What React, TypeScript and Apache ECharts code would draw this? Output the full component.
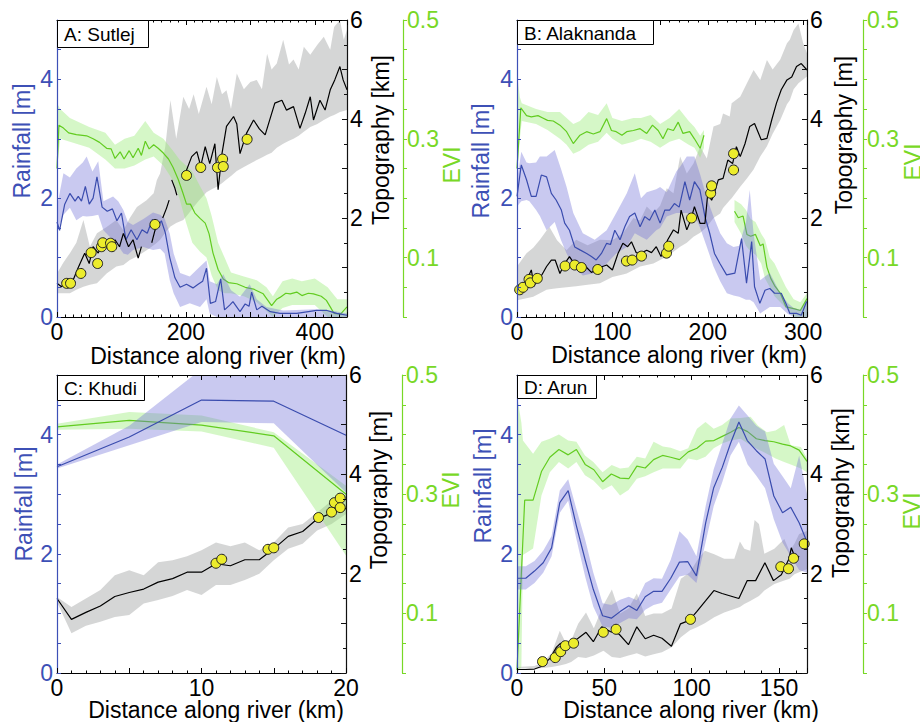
import React, { useEffect, useRef } from 'react';
import * as echarts from 'echarts';

const FONT = '"Liberation Sans", Arial, Helvetica, sans-serif';

// ---------- tick labels ----------
const sutlejDistanceTicks = [0, 200, 400];
const alaknandaDistanceTicks = [0, 100, 200, 300];
const khudiDistanceTicks = [0, 10, 20];
const arunDistanceTicks = [0, 50, 100, 150];
const rainfallTicks = [0, 2, 4];
const topographyTicks = [2, 4, 6];
const eviTicks = [0.1, 0.3, 0.5];

// ---------- A: Sutlej ----------
const sutlejRain = [[0,1.6],[4,1.46],[12,1.9],[20,2.08],[28,1.95],[33,2.03],[38,1.95],[44,2.2],[50,1.9],[56,2.0],[62,2.36],[70,1.85],[78,1.78],[86,1.82],[93,1.62],[100,1.75],[107,1.3],[115,1.47],[124,1.3],[132,1.47],[140,1.41],[148,1.64],[156,1.52],[162,1.62],[168,1.42],[175,1.0],[183,0.66],[191,0.5],[201,0.55],[211,0.49],[219,0.55],[226,0.6],[232,0.82],[238,0.23],[246,0.26],[254,0.64],[260,0.12],[268,0.2],[273,0.26],[284,0.09],[292,0.22],[298,0.18],[302,0.42],[310,0.12],[318,0.18],[331,0.09],[346,0.06],[372,0.06],[403,0.11],[419,0.11],[434,0.06],[450,0.03]];
const sutlejRainBand = [[0,1.42,1.86],[10,1.72,2.42],[20,1.84,2.35],[30,1.63,2.5],[40,1.7,2.6],[46,1.69,2.7],[55,1.7,2.45],[64,1.72,2.62],[72,1.46,1.95],[87,1.29,2.03],[95,1.2,1.95],[103,1.07,1.8],[110,1.05,1.6],[118,1.13,1.55],[134,1.18,1.65],[149,1.13,1.76],[160,1.15,1.72],[167,1.07,1.66],[175,0.62,1.4],[181,0.4,1.07],[191,0.17,0.74],[206,0.23,0.68],[222,0.17,0.85],[232,0.3,0.95],[237,0.06,0.6],[248,0,0.55],[258,0,0.72],[270,0,0.45],[284,0,0.34],[299,0,0.55],[310,0,0.3],[325,0,0.17],[351,0,0.11],[400,0,0.13],[430,0,0.1],[450,0,0.06]];
const sutlejTopo = [[0,0.68],[7,0.61],[15,0.75],[23,0.68],[33,1.0],[43,1.29],[50,1.08],[56,1.42],[64,1.29],[72,1.56],[82,1.42],[90,1.56],[97,1.42],[103,1.69],[111,1.42],[118,1.56],[126,1.19],[131,1.42],[136,null],[147,1.5],[152,1.75],[155,1.82],[159,null],[164,2.0],[170,2.2],[174,2.36],[176,null],[178,2.77],[183,2.6],[186,2.46],[192,null],[199,2.9],[209,3.24],[217,3.34],[223,3.05],[230,3.44],[237,3.1],[245,3.5],[250,2.57],[256,3.3],[263,3.85],[274,4.05],[279,3.9],[284,3.3],[294,3.71],[305,3.98],[314,3.8],[323,3.68],[338,4.32],[349,4.38],[356,4.18],[367,4.25],[377,3.81],[385,4.11],[393,4.45],[398,3.98],[408,4.38],[416,4.18],[424,4.59],[431,4.79],[439,5.06],[444,4.79],[450,4.59]];
const sutlejTopoBand = [[0,0.48,0.88],[10,0.48,1.1],[20,0.48,1.29],[30,0.55,1.5],[41,0.61,1.96],[51,0.65,1.42],[62,0.68,1.69],[77,0.88,1.82],[92,1.02,1.96],[103,1.05,1.75],[113,1.15,2.0],[124,1.22,2.22],[139,1.35,2.36],[150,1.45,2.5],[155,1.5,2.77],[160,1.56,2.9],[168,1.7,3.44],[176,1.83,4.38],[185,1.9,3.6],[196,1.96,4.45],[205,2.1,4.2],[212,2.22,4.5],[220,2.35,4.1],[232,2.52,4.65],[240,2.58,4.3],[248,2.63,4.85],[256,2.7,4.5],[263,2.78,4.58],[270,2.85,4.2],[279,2.95,4.92],[290,3.03,4.6],[300,3.1,4.75],[310,3.17,4.79],[318,3.22,4.6],[326,3.28,5.32],[333,3.32,5.0],[341,3.42,5.12],[351,3.5,5.6],[360,3.56,5.1],[367,3.6,5.2],[375,3.66,5.0],[383,3.74,5.46],[393,3.84,5.3],[404,3.9,5.5],[414,3.98,5.66],[424,4.05,5.4],[430,4.08,5.86],[439,4.14,6.0],[445,4.16,5.6],[450,4.18,5.8]];
const sutlejEvi = [[0,0.25],[3,0.323],[10,0.318],[18,0.31],[30,0.307],[46,0.305],[56,0.3],[66,0.294],[77,0.284],[84,0.283],[90,0.267],[98,0.278],[104,0.266],[112,0.28],[118,0.268],[126,0.284],[131,0.272],[137,0.296],[143,0.283],[150,0.29],[157,0.284],[165,0.276],[173,0.266],[180,0.252],[188,0.232],[195,0.21],[201,0.19],[207,0.19],[214,0.175],[222,0.166],[230,0.158],[236,0.14],[242,0.108],[250,0.08],[258,0.064],[266,0.058],[279,0.056],[292,0.05],[305,0.047],[320,0.039],[333,0.019],[341,0.03],[346,0.033],[355,0.04],[362,0.039],[372,0.042],[380,0.036],[390,0.04],[398,0.039],[410,0.035],[418,0.028],[424,0.017],[430,0.006],[440,0.005],[450,0.017]];
const sutlejEviBand = [[0,0.25,0.36],[5,0.3,0.35],[20,0.295,0.335],[50,0.285,0.32],[75,0.265,0.31],[90,0.25,0.29],[105,0.25,0.3],[120,0.255,0.305],[137,0.265,0.33],[150,0.27,0.31],[165,0.255,0.3],[180,0.23,0.28],[190,0.2,0.265],[200,0.16,0.255],[210,0.125,0.245],[222,0.11,0.22],[232,0.1,0.2],[240,0.07,0.17],[250,0.045,0.125],[260,0.04,0.1],[270,0.04,0.075],[290,0.035,0.068],[310,0.025,0.062],[325,0.01,0.05],[335,0,0.035],[350,0.015,0.06],[365,0.02,0.065],[380,0.02,0.06],[400,0.02,0.065],[420,0,0.05],[435,0,0.03],[450,0,0.03]];
const sutlejSamples = [[15,0.68],[21,0.68],[37,0.88],[53,1.3],[63,1.08],[69,1.42],[71,1.5],[83,1.49],[85,1.42],[152,1.87],[201,2.86],[223,3.02],[249,3.02],[257,3.19],[258,3.04],[295,3.59]];

// ---------- B: Alaknanda ----------
const alaknandaRain = [[0,2.03],[4.5,2.56],[10,2.31],[15,2.03],[20,2.03],[25.5,2.39],[31,2.36],[36,2.08],[41,1.97],[46.5,1.8],[50,1.58],[55,1.46],[60.5,1.18],[66,1.13],[73,1.07],[78,1.02],[83,0.96],[88.5,1.07],[94,1.24],[98,1.22],[102.5,1.46],[108,1.3],[113,1.52],[118,1.69],[123.5,1.75],[129,1.52],[134,1.69],[139,1.63],[144.5,1.8],[150,1.58],[155,1.8],[160,1.8],[165,1.91],[170,1.85],[176,2.28],[181,1.97],[186,2.28],[191.7,2.14],[197,1.69],[202,1.41],[207,1.07],[212.7,0.9],[219.7,0.71],[228.4,0.74],[235.4,1.32],[240.6,0.57],[246,1.27],[249,0.51],[254.6,0.23],[260,0.45],[265,0.48],[270,0.4],[277,0.4],[282.6,0.2],[286,0.06],[293,0.06],[298,0.03],[303.6,0.26]];
const alaknandaRainBand = [[0,1.86,2.3],[4.5,1.95,2.78],[10,1.97,2.6],[13,1.95,2.59],[20,1.8,2.6],[24,1.7,2.7],[31,1.46,2.7],[39.5,1.6,2.81],[46,1.3,2.5],[52,1.07,2.19],[59,0.85,1.75],[69,0.7,1.41],[81.5,0.74,1.3],[94,0.9,1.46],[104,1.07,1.75],[115,1.18,2.08],[123.5,1.41,2.42],[130,1.35,2.0],[136,1.3,2.1],[146,1.46,2.15],[150,1.5,2.19],[157,1.69,2.1],[167,1.75,2.45],[171,1.75,2.53],[178,1.75,2.7],[186,1.72,2.7],[192,1.5,2.4],[199,1.18,2.0],[206,0.85,1.69],[213,0.6,1.41],[220,0.4,1.24],[227,0.36,1.18],[233,0.34,1.2],[240,0.29,1.6],[244,0.29,2.14],[248,0.25,1.4],[255,0.06,0.62],[265,0.17,0.74],[276,0.17,0.4],[284,0.05,0.23],[290,0,0.15],[297,0,0.12],[304,0,0.29]];
const alaknandaTopo = [[0,0.58],[4,0.65],[8,0.62],[11,0.78],[15,0.95],[18,0.62],[21,0.78],[26,0.85],[31,1.02],[36,1.15],[40,1.15],[45,0.88],[50,1.08],[55,1.22],[60,1.08],[66,1.02],[72,1.02],[78,0.9],[87,1.0],[94,1.05],[100,0.95],[106,1.29],[111,1.49],[116,1.42],[120,1.52],[125,1.3],[130,1.29],[136,1.35],[141,1.3],[146,1.42],[151,1.22],[158,1.56],[164,1.76],[169,1.69],[172,2.16],[178,1.76],[182,1.95],[186,2.23],[192,1.89],[197,1.89],[200,2.5],[204,2.36],[206,2.45],[211,2.77],[216,2.8],[221,3.17],[226,3.1],[230,3.44],[234,3.24],[239,3.5],[244,3.85],[249,3.91],[256,3.58],[262,3.61],[267,3.98],[272,4.32],[277,4.59],[283,4.79],[288,4.85],[293,5.06],[298,5.12],[304,4.99]];
const alaknandaTopoBand = [[0,0.34,1.02],[10,0.38,1.29],[17,0.41,1.4],[24,0.48,1.56],[31,0.55,1.75],[34,0.56,1.82],[42,0.58,1.55],[52,0.6,1.35],[62,0.62,1.56],[74,0.65,1.45],[87,0.68,1.56],[100,0.81,1.55],[111,0.86,1.69],[115,0.88,1.8],[122,0.95,2.0],[129,1.02,1.95],[136,1.05,2.23],[143,1.08,2.1],[150,1.15,2.25],[157,1.22,2.6],[164,1.32,2.5],[171,1.42,3.24],[178,1.5,2.9],[185,1.62,3.1],[192,1.7,3.44],[199,1.82,3.2],[206,2.0,3.85],[213,2.09,3.9],[216,2.2,4.11],[223,2.36,4.05],[225,2.4,4.32],[234,2.63,4.45],[241,2.8,4.72],[248,2.98,4.99],[255,3.24,4.79],[262,3.45,5.19],[268,3.7,5.0],[276,3.98,5.2],[283,4.3,5.53],[286,4.38,5.6],[290,4.6,5.8],[295,4.72,5.93],[300,4.8,5.53],[304,4.86,5.33]];
const alaknandaEvi = [[0,0.25],[4,0.352],[10,0.339],[15,0.337],[22,0.339],[27,0.335],[32,0.331],[38,0.33],[45,0.323],[52,0.312],[59,0.292],[66,0.306],[73,0.312],[80,0.308],[87,0.312],[94,0.334],[99,0.314],[104,0.312],[110,0.306],[115,0.312],[122,0.314],[129,0.317],[136,0.309],[142,0.323],[148,0.314],[153,0.3],[158,0.317],[164,0.314],[169,0.328],[174,0.309],[181,0.312],[186,0.3],[192,0.284],[196,0.306],[200,null],[228,0.178],[232,0.167],[237,0.17],[241,0.139],[245,0.136],[250,0.139],[255,0.12],[258,0.123],[262,0.084],[266,0.065],[270,0.053],[276,0.04],[282,0.017],[290,0.014],[297,0.011],[304,0.031]];
const alaknandaEviBandUpper = [[0,0.24,0.41],[3,0.3,0.37],[5,0.33,0.36],[20,0.325,0.35],[32,0.315,0.345],[45,0.3,0.345],[52,0.29,0.335],[59,0.275,0.325],[66,0.28,0.33],[75,0.29,0.345],[85,0.295,0.34],[94,0.31,0.36],[100,0.3,0.335],[110,0.29,0.33],[122,0.295,0.335],[130,0.3,0.335],[140,0.295,0.34],[150,0.285,0.325],[160,0.295,0.335],[170,0.3,0.35],[180,0.29,0.33],[186,0.285,0.32],[192,0.268,0.305],[196,0.285,0.315]];
const alaknandaEviBandLower = [[228,0.16,0.197],[235,0.14,0.19],[240,0.12,0.18],[245,0.11,0.165],[250,0.105,0.16],[256,0.09,0.14],[260,0.065,0.13],[265,0.05,0.1],[270,0.035,0.09],[276,0.025,0.07],[282,0.015,0.05],[290,0,0.03],[297,0,0.025],[304,0,0.04]];
const alaknandaSamples = [[2.8,0.55],[6.3,0.6],[12.6,0.76],[14,0.69],[21.3,0.78],[50.4,1.03],[60.5,1.05],[67.5,1.0],[84.6,0.96],[114.7,1.13],[120.7,1.15],[130.5,1.23],[156.7,1.29],[159,1.43],[183,2.0],[203,2.5],[204,2.65],[227,3.3],[227,2.97]];

// ---------- C: Khudi ----------
const khudiRain = [[0,3.46],[5,3.96],[10,4.58],[15,4.56],[20,3.99]];
const khudiRainBand = [[0,3.43,3.5],[5,3.82,4.15],[10,4.21,5.1],[15,4.19,5.1],[20,3.03,5.1]];
const khudiTopo = [[0,1.5],[1,1.08],[2,1.22],[3,1.35],[4,1.54],[5,1.62],[6,1.69],[7,1.83],[8,1.9],[9,2.03],[10,2.03],[11,2.2],[12,2.16],[13,2.28],[14,2.28],[15,2.5],[16,2.75],[17,2.85],[18,3.1],[19,3.22],[19.5,3.45],[20,3.3]];
const khudiTopoBand = [[0,1.43,1.53],[1,0.8,1.33],[2,0.95,1.5],[3,1.03,1.67],[4,1.13,1.97],[5,1.17,2.07],[6,1.4,1.97],[7,1.47,2.23],[8,1.55,2.27],[9,1.67,2.35],[10,1.57,2.47],[11,1.77,2.63],[12,1.77,2.55],[13,1.87,2.63],[14,2.0,2.47],[15,2.27,2.63],[16,2.5,2.93],[17,2.6,3.0],[18,2.87,3.23],[19,3.0,3.47],[20,3.2,3.6]];
const khudiEvi = [[0,0.413],[5,0.424],[10,0.416],[15,0.398],[20,0.3]];
const khudiEviBand = [[0,0.408,0.418],[5,0.41,0.438],[10,0.405,0.432],[15,0.378,0.404],[20,0.197,0.314]];
const khudiSamples = [[11,2.21],[11.4,2.29],[14.6,2.49],[15,2.52],[18.1,3.13],[19,3.24],[19.2,3.43],[19.6,3.52],[19.6,3.33]];

// ---------- D: Arun ----------
const arunRain = [[0,1.59],[5,1.59],[10,1.71],[15,1.85],[19.8,2.1],[24.5,2.86],[29.3,3.06],[34,2.47],[39,1.9],[43.7,1.4],[49,0.96],[54,0.92],[59,1.03],[64,1.13],[68.6,1.05],[73.4,1.28],[78.2,1.37],[83,1.37],[88,1.59],[93,1.86],[97.7,1.87],[102.7,1.63],[108,2.52],[112.6,3.11],[117.5,3.45],[122.2,3.85],[127,4.21],[131.8,3.9],[137,3.73],[142,3.59],[147,2.97],[152,2.69],[156.7,2.78],[161.5,2.52],[166,2.2]];
const arunRainBand = [[0,1.4,1.79],[5,1.4,1.79],[10,1.51,1.88],[15,1.68,2.05],[19.8,1.96,2.3],[24.5,2.69,3.06],[29.3,2.89,3.25],[34,2.25,2.75],[39,1.62,2.24],[43.7,1.11,1.68],[49,0.78,1.17],[54,0.76,1.14],[59,0.84,1.23],[64,0.92,1.28],[68.6,0.9,1.22],[73.4,1.06,1.51],[78.2,1.14,1.59],[83,1.18,1.58],[88,1.4,1.9],[93,1.62,2.38],[97.7,1.65,2.24],[102.7,1.51,1.96],[108,2.2,2.8],[112.6,2.8,3.42],[117.5,3.2,3.85],[122.2,3.65,4.27],[127,3.88,4.49],[132,3.5,4.32],[137,3.31,4.15],[142,3.1,4.05],[147,2.58,3.51],[152,2.19,3.3],[156.7,1.96,3.1],[161.5,1.73,3.65],[166,1.68,3.0]];
const arunTopo = [[0,0.07],[5,0.07],[10,0.08],[14,0.13],[19,0.3],[22.6,0.52],[25,0.6],[27.5,0.45],[31.2,0.6],[35,0.7],[39.5,0.82],[43.7,0.63],[48.5,0.93],[53.6,0.83],[58.5,0.78],[63.8,0.57],[68.6,0.93],[73.4,0.69],[78.2,0.76],[83,0.7],[88.4,0.54],[93.6,0.99],[98.6,1.06],[103,1.24],[107.9,1.45],[112.7,1.66],[117.4,1.6],[122.2,1.55],[127,1.5],[131.8,1.86],[136.6,1.86],[141.9,2.22],[146.8,1.86],[151.3,1.98],[155.7,2.3],[157,2.52],[159.5,2.3],[161.5,2.35]];
const arunTopoBand = [[0,0.09,0.12],[10,0.09,0.14],[15,0.1,0.22],[19.8,0.12,0.4],[24.5,0.15,0.85],[28,0.18,0.6],[31,0.22,0.65],[35,0.32,0.99],[39.5,0.3,1.22],[44,0.35,0.9],[49.5,0.45,1.37],[54.3,0.32,1.68],[59,0.3,1.2],[63.8,0.35,1.3],[68.6,0.4,1.6],[73.4,0.33,1.15],[78.2,0.38,1.2],[83,0.42,1.2],[88.5,0.52,1.3],[93.8,0.72,1.9],[99,0.86,2.03],[103,0.92,2.26],[107.5,1.0,2.46],[112.9,1.12,2.39],[118.6,1.22,2.3],[124.4,1.29,2.3],[127.6,1.33,2.65],[130.1,1.39,2.5],[133.5,1.45,2.46],[136,1.5,3.08],[138.5,1.55,3.0],[141.6,1.66,2.4],[147.3,1.79,2.5],[153,1.86,2.7],[156,1.9,2.45],[158.8,1.99,2.6],[161.5,2.03,2.8],[166,2.09,2.86]];
const arunEvi = [[0,0.005],[4.4,0.29],[9.2,0.29],[14,0.338],[18.8,0.362],[24,0.375],[29.3,0.366],[34,0.375],[39,0.35],[44,0.341],[49,0.321],[54,0.334],[59,0.327],[64,0.326],[68.6,0.347],[73.4,0.344],[78.2,0.358],[83.3,0.365],[88,0.362],[93,0.358],[98,0.371],[103,0.377],[108,0.389],[112.7,0.39],[117.5,0.397],[122.3,0.404],[127,0.412],[132,0.405],[137,0.393],[142,0.39],[147,0.388],[152,0.384],[156.7,0.381],[161.5,0.374],[166,0.355]];
const arunEviBand = [[0,0,0.466],[2.5,0.01,0.42],[3.4,0.198,0.39],[9.2,0.209,0.368],[14,0.298,0.388],[18.8,0.337,0.393],[24,0.354,0.4],[29.3,0.343,0.39],[34,0.354,0.388],[38.9,0.332,0.365],[43.7,0.323,0.354],[49,0.307,0.337],[54.2,0.315,0.349],[59,0.298,0.343],[63.8,0.307,0.345],[68.6,0.326,0.363],[73.4,0.33,0.36],[78.2,0.337,0.388],[83.5,0.343,0.38],[88,0.343,0.378],[93.5,0.343,0.372],[98,0.36,0.377],[103,0.357,0.41],[107.9,0.363,0.421],[112.6,0.377,0.41],[117.4,0.385,0.416],[122.2,0.39,0.427],[128,0.393,0.428],[133.7,0.382,0.43],[138,0.375,0.415],[143,0.368,0.404],[148,0.36,0.407],[152.9,0.354,0.416],[156.7,0.35,0.382],[162.5,0.343,0.379],[166,0.337,0.36]];
const arunSamples = [[14.6,0.23],[21.9,0.31],[25,0.43],[27.7,0.55],[32.4,0.6],[49.4,0.82],[56.7,0.88],[99.3,1.08],[151,2.14],[155.4,2.1],[158.3,2.31],[164.4,2.6]];

// ---------- styling ----------
const BLUE_AXIS = '#3d50b6';
const BLUE_LINE = '#3a4cae';
const BLUE_BAND = 'rgba(112,112,215,0.38)';
const GREY_BAND = 'rgba(150,152,152,0.40)';
const GREEN_AXIS = '#78d826';
const GREEN_LINE = '#62cc20';
const GREEN_BAND = 'rgba(150,235,115,0.40)';

const panels = [
  { label: 'A: Sutlej', box: [57, 20, 91, 27], grid: [57, 20, 290, 297], xMax: 450, xStep: 100, xMinor: 8, xTicks: sutlejDistanceTicks,
    rain: sutlejRain, rainBand: sutlejRainBand, topo: sutlejTopo, topoBand: sutlejTopoBand, evi: sutlejEvi, eviBands: [sutlejEviBand], samples: sutlejSamples,
    topoUnit: 'Topography [km]', rainPos: [22, 141], topoPos: [381, 140], eviPos: [452, 165], xPos: [218, 356] },
  { label: 'B: Alaknanda', box: [517, 20, 136, 24], grid: [517, 20, 290, 297], xMax: 304, xStep: 50, xMinor: 5, xTicks: alaknandaDistanceTicks,
    rain: alaknandaRain, rainBand: alaknandaRainBand, topo: alaknandaTopo, topoBand: alaknandaTopoBand, evi: alaknandaEvi, eviBands: [alaknandaEviBandUpper, alaknandaEviBandLower], samples: alaknandaSamples,
    topoUnit: 'Topography [m]', rainPos: [481, 161], topoPos: [844, 135], eviPos: [913, 162], xPos: [679, 355] },
  { label: 'C: Khudi', box: [57, 375, 87, 25], grid: [57, 375, 289, 298], xMax: 20, xStep: 5, xMinor: 5, xTicks: khudiDistanceTicks,
    rain: khudiRain, rainBand: khudiRainBand, topo: khudiTopo, topoBand: khudiTopoBand, evi: khudiEvi, eviBands: [khudiEviBand], samples: khudiSamples,
    topoUnit: 'Topography [m]', rainPos: [24, 504], topoPos: [379, 490], eviPos: [451, 490], xPos: [216, 710] },
  { label: 'D: Arun', box: [517, 375, 79, 23], grid: [517, 375, 290, 298], xMax: 166, xStep: 50, xMinor: 5, xTicks: arunDistanceTicks,
    rain: arunRain, rainBand: arunRainBand, topo: arunTopo, topoBand: arunTopoBand, evi: arunEvi, eviBands: [arunEviBand], samples: arunSamples,
    topoUnit: 'Topography [km]', rainPos: [483, 486], topoPos: [841, 493], eviPos: [912, 511], xPos: [691, 710] },
];

const near = (v: number, list: number[]) => list.some((t) => Math.abs(v - t) < 1e-6);

function bandSeries(xi: number, yi: number, rows: number[][], fill: string, z: number) {
  return {
    type: 'custom', xAxisIndex: xi, yAxisIndex: yi, coordinateSystem: 'cartesian2d',
    clip: true, silent: true, z, data: rows, encode: { x: 0, y: [1, 2] },
    renderItem: (params: any, api: any) => {
      if (params.dataIndex !== 0) return null;
      const pts: number[][] = [];
      for (const r of rows) pts.push(api.coord([r[0], r[2]]));
      for (let k = rows.length - 1; k >= 0; k--) pts.push(api.coord([rows[k][0], rows[k][1]]));
      return { type: 'polygon', shape: { points: pts }, style: { fill } };
    },
  };
}

function buildOption() {
  const grid: any[] = [];
  const xAxis: any[] = [];
  const yAxis: any[] = [];
  const series: any[] = [];
  const graphic: any[] = [];
  const tickFont = { fontSize: 23, lineHeight: 21, fontFamily: FONT };

  panels.forEach((p, i) => {
    grid.push({ left: p.grid[0], top: p.grid[1], width: p.grid[2], height: p.grid[3], containLabel: false });
    const xCommon = {
      type: 'value', gridIndex: i, min: 0, max: p.xMax, interval: p.xStep, z: 10,
      axisLine: { show: true, onZero: false, lineStyle: { color: '#000', width: 1 } },
      axisTick: { show: true, inside: true, length: 5, lineStyle: { color: '#000' } },
      minorTick: { show: true, splitNumber: p.xMinor, length: 2.5, lineStyle: { color: '#000' } },
      splitLine: { show: false }, minorSplitLine: { show: false },
    };
    xAxis.push({ ...xCommon, position: 'bottom',
      axisLabel: { ...tickFont, color: '#000', margin: 4, formatter: (v: number) => (near(v, p.xTicks) ? String(v) : '') } });
    xAxis.push({ ...xCommon, position: 'top', axisLabel: { show: false } });

    yAxis.push({ type: 'value', gridIndex: i, position: 'left', min: 0, max: 5, interval: 0.5, z: 10,
      axisLine: { show: true, onZero: false, lineStyle: { color: BLUE_AXIS, width: 1.2 } },
      axisTick: { show: true, inside: true, length: 4, lineStyle: { color: BLUE_AXIS } },
      splitLine: { show: false },
      axisLabel: { ...tickFont, color: BLUE_AXIS, margin: 4, formatter: (v: number) => (near(v, rainfallTicks) ? String(v) : '') } });
    yAxis.push({ type: 'value', gridIndex: i, position: 'right', min: 0, max: 6, interval: 1, z: 10,
      axisLine: { show: true, onZero: false, lineStyle: { color: '#111', width: 1.2 } },
      axisTick: { show: true, inside: true, length: 5, lineStyle: { color: '#111' } },
      minorTick: { show: true, splitNumber: 2, length: 3, lineStyle: { color: '#111' } },
      splitLine: { show: false },
      axisLabel: { ...tickFont, color: '#000', margin: 3, formatter: (v: number) => (near(v, topographyTicks) ? String(v) : '') } });
    yAxis.push({ type: 'value', gridIndex: i, position: 'right', offset: 56, min: 0, max: 0.5, interval: 0.05, z: 10,
      axisLine: { show: true, onZero: false, lineStyle: { color: GREEN_AXIS, width: 1.2 } },
      axisTick: { show: true, inside: false, length: 4, lineStyle: { color: GREEN_AXIS } },
      splitLine: { show: false },
      axisLabel: { ...tickFont, color: GREEN_AXIS, margin: 4, formatter: (v: number) => (near(v, eviTicks) ? v.toFixed(1) : '') } });

    const xi = i * 2;
    const yr = i * 3, yt = i * 3 + 1, ye = i * 3 + 2;
    series.push(bandSeries(xi, yt, p.topoBand, GREY_BAND, 2));
    p.eviBands.forEach((b) => series.push(bandSeries(xi, ye, b, GREEN_BAND, 3)));
    series.push({ type: 'line', xAxisIndex: xi, yAxisIndex: ye, data: p.evi, symbol: 'none', showSymbol: false, connectNulls: false, z: 4,
      lineStyle: { color: GREEN_LINE, width: 1.2 }, silent: true });
    series.push(bandSeries(xi, yr, p.rainBand, BLUE_BAND, 5));
    series.push({ type: 'line', xAxisIndex: xi, yAxisIndex: yr, data: p.rain, symbol: 'none', showSymbol: false, z: 6,
      lineStyle: { color: BLUE_LINE, width: 1.2 }, silent: true });
    series.push({ type: 'line', xAxisIndex: xi, yAxisIndex: yt, data: p.topo, symbol: 'none', showSymbol: false, connectNulls: false, z: 7,
      lineStyle: { color: '#000', width: 1.2 }, silent: true });
    series.push({ type: 'scatter', xAxisIndex: xi, yAxisIndex: yt, data: p.samples, symbol: 'circle', symbolSize: 10, z: 8,
      itemStyle: { color: '#ecec2c', borderColor: '#222', borderWidth: 1, opacity: 1 }, silent: true });

    graphic.push({ type: 'rect', z: 100, shape: { x: p.box[0] + 0.5, y: p.box[1] + 0.5, width: p.box[2], height: p.box[3] },
      style: { fill: '#fff', stroke: '#000', lineWidth: 1 } });
    graphic.push({ type: 'text', z: 101, x: p.box[0] + 7, y: p.box[1] + p.box[3] / 2 + 1,
      style: { text: p.label, fill: '#000', font: `19px ${FONT}`, textAlign: 'left', textVerticalAlign: 'middle', align: 'left', verticalAlign: 'middle' } });
    const title = (pos: number[], text: string, color: string, rot: number) => ({
      type: 'text', z: 101, x: pos[0], y: pos[1], rotation: rot,
      style: { text, fill: color, font: `23px ${FONT}`, lineHeight: 21, textAlign: 'center', textVerticalAlign: 'middle', align: 'center', verticalAlign: 'middle' },
    });
    graphic.push(title(p.rainPos, 'Rainfall [m]', BLUE_AXIS, Math.PI / 2));
    graphic.push(title(p.topoPos, p.topoUnit, '#000', Math.PI / 2));
    graphic.push(title(p.eviPos, 'EVI', GREEN_AXIS, Math.PI / 2));
    graphic.push(title(p.xPos, 'Distance along river (km)', '#000', 0));
  });

  return { animation: false, backgroundColor: '#fff', textStyle: { fontFamily: FONT }, grid, xAxis, yAxis, series, graphic };
}

export default function App() {
  const ref = useRef<HTMLDivElement>(null);
  useEffect(() => {
    if (!ref.current) return;
    const chart = echarts.init(ref.current, undefined, { renderer: 'svg' });
    chart.setOption(buildOption() as any);
    return () => chart.dispose();
  }, []);
  return <div ref={ref} style={{ position: 'absolute', left: 0, top: 0, width: 920, height: 722, background: '#fff' }} />;
}
